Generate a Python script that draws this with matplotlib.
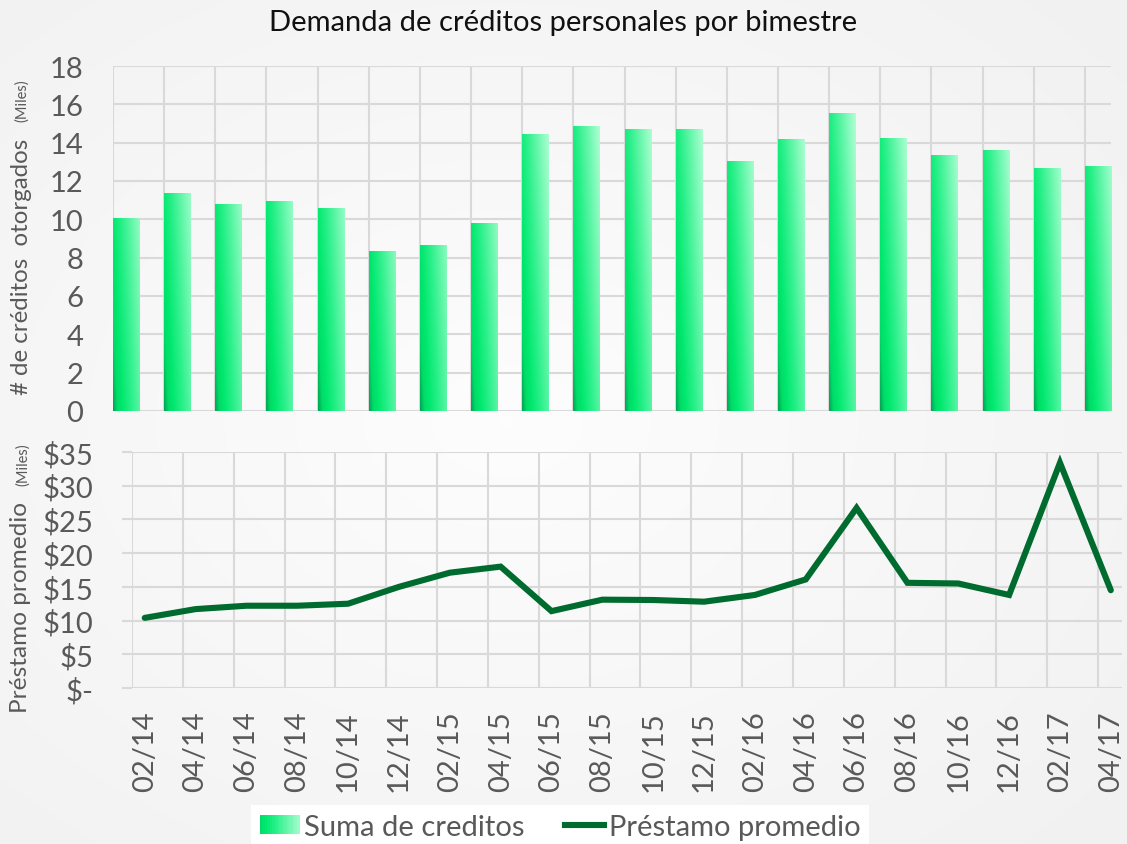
import numpy as np
import matplotlib
matplotlib.use("Agg")
import matplotlib.pyplot as plt
from matplotlib.patches import Rectangle
from matplotlib.lines import Line2D
from matplotlib.legend_handler import HandlerBase
from matplotlib.colors import LinearSegmentedColormap

# ---------------- data ----------------
periodos = ['02/14', '04/14', '06/14', '08/14', '10/14', '12/14', '02/15', '04/15',
            '06/15', '08/15', '10/15', '12/15', '02/16', '04/16', '06/16', '08/16',
            '10/16', '12/16', '02/17', '04/17']
creditos = [10.09, 11.39, 10.82, 10.97, 10.61, 8.37, 8.64, 9.79, 14.43, 14.85,
            14.70, 14.70, 13.03, 14.17, 15.53, 14.23, 13.34, 13.60, 12.66, 12.77]
prestamo = [10.4, 11.7, 12.2, 12.2, 12.5, 15.0, 17.1, 18.0, 11.4, 13.1,
            13.05, 12.8, 13.8, 16.1, 26.7, 15.6, 15.5, 13.8, 33.4, 14.5]
y_top_ticks = [0, 2, 4, 6, 8, 10, 12, 14, 16, 18]
y_bot_ticks = [0, 5, 10, 15, 20, 25, 30, 35]
y_bot_labels = ['$-', '$5', '$10', '$15', '$20', '$25', '$30', '$35']

# ---------------- style ----------------
FONT = 'Lato'
plt.rcParams['font.family'] = [FONT, 'DejaVu Sans']
TXT = '#595959'
GRID = '#d9d9d9'
LINE = '#006b2e'
TICKFS = 21
W, H = 1127, 845
fig = plt.figure(figsize=(W / 100, H / 100), dpi=100)
fig.patch.set_facecolor('#f4f4f4')

# subtle background gradient
bg = fig.add_axes([0, 0, 1, 1], zorder=-10)
yy, xx = np.mgrid[0:1:200j, 0:1:200j]
r = np.sqrt((xx - 0.45) ** 2 + (yy - 0.5) ** 2)
bgcm = LinearSegmentedColormap.from_list('bg', ['#fdfdfd', '#f1f1f1'])
bg.imshow(r, cmap=bgcm, aspect='auto', extent=(0, 1, 0, 1), interpolation='bilinear')
bg.axis('off')

def fx(px):
    return px / W

def fy(py):
    return 1 - py / H

# bar gradient colormap (dark bottom-left -> bright -> pale top-right)
barcm = LinearSegmentedColormap.from_list(
    'bar', [(0.0, '#00a653'), (0.1, '#00dc68'), (0.22, '#00e86e'), (0.45, '#2cf08b'),
            (1.0, '#b4ffd6')])

# ---------------- top axes ----------------
ax1 = fig.add_axes([fx(113), fy(412), fx(1111) - fx(113), fy(67) - fy(412)])
ax1.patch.set_alpha(0)
n = len(periodos)
xs = np.arange(n)
bars = ax1.bar(xs, creditos, width=0.51, align='edge', color='none', edgecolor='none', zorder=3)
u = np.linspace(0, 1, 30)
v = np.linspace(0, 1, 200)
U, V = np.meshgrid(u, v)
for b in bars:
    h = b.get_height()
    vv = V * (h / 16.0)
    s = np.clip(0.62 * U + 0.38 * np.clip(vv, 0, 1.2), 0, 1)
    im = ax1.imshow(s, cmap=barcm, vmin=0, vmax=1, origin='lower', aspect='auto',
                    interpolation='bilinear',
                    extent=(b.get_x(), b.get_x() + b.get_width(), 0, h), zorder=3)
    im.set_clip_path(b)
ax1.set_xlim(0, n - 1 + 0.51)
ax1.set_ylim(0, 18)
ax1.set_xticks(xs)
ax1.set_yticks(y_top_ticks)
ax1.tick_params(axis='x', length=0, labelbottom=False)
ax1.tick_params(axis='y', length=0, pad=21.5, labelsize=TICKFS, labelcolor=TXT)
ax1.grid(True, color=GRID, linewidth=1.5, zorder=0)
ax1.set_axisbelow(True)
for sp in ax1.spines.values():
    sp.set_visible(False)

# ---------------- bottom axes ----------------
ax2 = fig.add_axes([fx(132), fy(689), fx(1122) - fx(132), fy(453) - fy(689)])
ax2.patch.set_alpha(0)
ax2.plot(xs, prestamo, color=LINE, linewidth=4.4, solid_capstyle='round',
         solid_joinstyle='miter', zorder=3)
ax2.set_xlim(-0.25, 19.22)
ax2.set_ylim(0, 35)
ax2.set_yticks(y_bot_ticks)
ax2.set_yticklabels(y_bot_labels)
ax2.set_xticks(xs)
ax2.set_xticklabels(periodos, rotation=90)
ax2.set_xticks(np.arange(n) - 0.25, minor=True)
ax2.tick_params(axis='x', which='major', length=0, pad=16, labelsize=TICKFS, labelcolor=TXT)
ax2.tick_params(axis='x', which='minor', length=0)
ax2.tick_params(axis='y', length=7.2, width=1.5, color=GRID, pad=20.5, labelsize=TICKFS,
                labelcolor=TXT)
ax2.grid(True, axis='y', color=GRID, linewidth=1.5, zorder=0)
ax2.grid(True, axis='x', which='minor', color=GRID, linewidth=1.5, zorder=0)
ax2.grid(False, axis='x', which='major')
ax2.set_axisbelow(True)
for sp in ax2.spines.values():
    sp.set_visible(False)
for lbl in ax2.get_xticklabels():
    lbl.set_verticalalignment('top')

# ---------------- texts ----------------
fig.text(0.5, fy(23), 'Demanda de créditos personales por bimestre', ha='center', va='center',
         fontsize=21, color='#111111')
fig.text(fx(22), fy(267), '# de créditos  otorgados', rotation=90, ha='center', va='center',
         fontsize=17.3, color=TXT)
fig.text(fx(22), fy(101), '(Miles)', rotation=90, ha='center', va='center',
         fontsize=10.5, color=TXT)
fig.text(fx(21), fy(608), 'Préstamo promedio', rotation=90, ha='center', va='center',
         fontsize=17.6, color=TXT)
fig.text(fx(23), fy(465), '(Miles)', rotation=90, ha='center', va='center',
         fontsize=10.5, color=TXT)

# ---------------- legend ----------------
class GradientHandler(HandlerBase):
    def create_artists(self, legend, orig_handle, xdescent, ydescent, width, height,
                       fontsize, trans):
        arts = []
        k = 16
        for j in range(k):
            c = barcm(0.12 + 0.78 * j / (k - 1))
            arts.append(Rectangle((-xdescent + width * j / k, -ydescent), width / k + 0.3,
                                  height, facecolor=c, edgecolor='none', transform=trans))
        return arts

h_bar = Rectangle((0, 0), 1, 1)
h_line = Line2D([0], [0], color=LINE, linewidth=4.4)
leg = fig.legend([h_bar, h_line], ['Suma de creditos', 'Préstamo promedio'],
                 handler_map={Rectangle: GradientHandler()},
                 loc='center', bbox_to_anchor=(fx(560), fy(828)), ncol=2,
                 frameon=True, fancybox=False, facecolor='white', edgecolor='none',
                 framealpha=1, fontsize=21, handlelength=1.35, handleheight=0.65,
                 handletextpad=0.15, columnspacing=1.4, borderpad=0.3)
for t in leg.get_texts():
    t.set_color(TXT)

fig.savefig('out.png', dpi=100, facecolor=fig.get_facecolor())
